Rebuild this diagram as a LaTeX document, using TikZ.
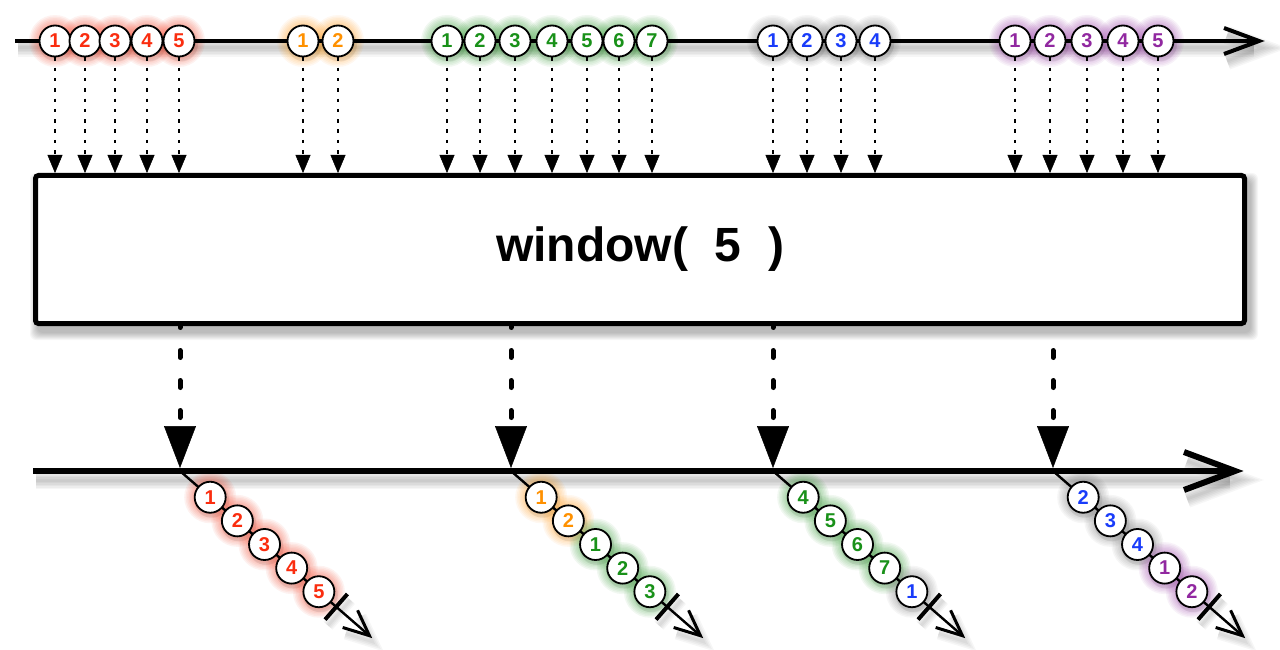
\documentclass[tikz,border=0pt]{standalone}
\usepackage{fontspec}
\setmainfont{Liberation Sans}
\usetikzlibrary{arrows.meta,calc}
\definecolor{cred}{RGB}{250,45,15}
\definecolor{corange}{RGB}{255,145,0}
\definecolor{cgreen}{RGB}{25,145,25}
\definecolor{cblue}{RGB}{25,60,250}
\definecolor{cpurple}{RGB}{145,40,160}
\definecolor{gshade}{RGB}{110,110,110}
\pgfdeclarelayer{bg}
\pgfdeclarelayer{shadow}
\pgfdeclarelayer{lines}
\pgfsetlayers{bg,shadow,lines,main}
\newcommand\glowat[2]{%
  \begin{pgfonlayer}{shadow}
    \foreach \rr in {17,18.5,...,27}{\fill[#2,opacity=0.06] (#1.center) circle[radius=\rr pt];}
    \fill[black,opacity=0.07] ($(#1.center)+(1.5,3)$) circle[radius=17.5pt];
  \end{pgfonlayer}}
\newcommand\dgroup[2]{%
  \foreach \lab/\col/\glc/\nam [count=\kk from 0] in {#2}{%
    \pgfmathsetmacro\dist{40+36*\kk}
    \node[marble,text=\col] (\nam) at ($(#1)+({0.7547*\dist},{0.6561*\dist})$) {\lab};
    \glowat{\nam}{\glc}
  }}
\tikzset{
  marble/.style={circle,draw=black,line width=1.8pt,fill=white,minimum size=31pt,inner sep=0pt,
    font=\bfseries\fontsize{20}{20}\selectfont},
  winbox/.style={draw=black,fill=white,line width=5pt,rounded corners=3pt,minimum width=1209pt,
    minimum height=148pt,inner sep=0pt,font=\bfseries\fontsize{48}{48}\selectfont},
  dotarrow/.style={line width=2.2pt,dash pattern=on 3.5pt off 6.8pt,
    -{Triangle[length=18pt,width=15pt,line width=0.5pt]}},
  winarrow/.style={line width=5pt,line cap=round,dash pattern=on 7pt off 23pt,
    -{Triangle[length=42pt,width=32pt,line width=0.5pt]},shorten >=3pt},
  diagline/.style={line width=2.4pt},
  tickline/.style={line width=4pt},
  chev/.style={line join=miter,line cap=butt},
  shade/.style={black,opacity=0.035},
}
\begin{document}
\begin{tikzpicture}[x=1pt,y=-1pt]
\useasboundingbox (0,0) rectangle (1280,650);
\begin{pgfonlayer}{bg}\fill[white] (0,0) rectangle (1280,650);\end{pgfonlayer}

% axis coordinates
\coordinate (tl) at (15,41);
\coordinate (tr) at (1259,41);
\coordinate (ta) at (1224,28);
\coordinate (tb) at (1224,54);
\coordinate (bl) at (33,471);
\coordinate (br) at (1235,471);
\coordinate (ba) at (1184,452);
\coordinate (bb) at (1184,490);
\foreach \i/\x in {1/180,2/511,3/773,4/1053}{
  \coordinate (w\i) at (\x,471);
  \coordinate (e\i) at ($(w\i)+({0.7547*251},{0.6561*251})$);
  \coordinate (tc\i) at ($(w\i)+({0.7547*207},{0.6561*207})$);
  \coordinate (ka\i) at ($(tc\i)+(-11.2,12.8)$);
  \coordinate (kb\i) at ($(tc\i)+(11.2,-12.8)$);
  \coordinate (ca\i) at ($(e\i)!28pt!24:(w\i)$);
  \coordinate (cb\i) at ($(e\i)!28pt!-24:(w\i)$);
}

% operator box
\node[winbox] (box) at (640,249.5) {window(\ \ 5\ \ )};

% shadows of axes and box
\begin{pgfonlayer}{shadow}
  \foreach \k in {0,1,...,7}{
    \fill[shade,rounded corners=6pt] ($(box.north west)+(4-\k,7-\k)$) rectangle ($(box.south east)+(4+\k,7+\k)$);
  }
  \foreach \w in {3,6,...,18}{
    \draw[shade,line width=\w pt] ($(tl)+(3,7)$) -- ($(tr)+(-5,7)$);
    \draw[shade,line width=\w pt,chev] ($(ta)+(3,7)$) -- ($(tr)+(3,7)$) -- ($(tb)+(3,7)$);
    \draw[shade,line width=\w pt] ($(bl)+(3,9)$) -- ($(br)+(-5,9)$);
    \draw[shade,line width=\w pt,chev] ($(ba)+(3,9)$) -- ($(br)+(3,9)$) -- ($(bb)+(3,9)$);
  }
  \foreach \i in {1,2,3,4}{
    \foreach \w in {3,6,9,12}{
      \draw[shade,line width=\w pt,chev] ($(ca\i)+(3,6)$) -- ($(e\i)+(3,6)$) -- ($(cb\i)+(3,6)$);
      \draw[shade,line width=\w pt] ($(ka\i)+(3,6)$) -- ($(kb\i)+(3,6)$);
    }
  }
\end{pgfonlayer}

% axes
\begin{pgfonlayer}{lines}
  \draw[line width=3.2pt] (tl) -- (tr);
  \draw[line width=4pt,chev] (ta) -- (tr) -- (tb);
  \draw[line width=6pt] (bl) -- (br);
  \draw[line width=6pt,chev] (ba) -- (br) -- (bb);
\end{pgfonlayer}

% top marbles with arrows into the box
\foreach \n/\x/\t/\c/\g in {
  r1/55/1/cred/cred, r2/85/2/cred/cred, r3/115/3/cred/cred, r4/147/4/cred/cred, r5/179/5/cred/cred,
  o1/303/1/corange/corange, o2/338/2/corange/corange,
  g1/447/1/cgreen/cgreen, g2/480/2/cgreen/cgreen, g3/515/3/cgreen/cgreen, g4/552/4/cgreen/cgreen,
  g5/587/5/cgreen/cgreen, g6/619/6/cgreen/cgreen, g7/652/7/cgreen/cgreen,
  b1/773/1/cblue/gshade, b2/807/2/cblue/gshade, b3/841/3/cblue/gshade, b4/875/4/cblue/gshade,
  p1/1015/1/cpurple/cpurple, p2/1050/2/cpurple/cpurple, p3/1087/3/cpurple/cpurple,
  p4/1123/4/cpurple/cpurple, p5/1158/5/cpurple/cpurple}{
  \node[marble,text=\c] (\n) at (\x,41) {\t};
  \glowat{\n}{\g}
  \begin{pgfonlayer}{lines}
    \draw[dotarrow] (\n.south) -- (\n.south |- box.north);
  \end{pgfonlayer}
}

% window output arrows and window streams
\begin{pgfonlayer}{lines}
  \foreach \i in {1,2,3}{
    \draw[winarrow,dash phase=5.5pt] (box.south -| w\i) -- (w\i);
  }
  \draw[winarrow,dash phase=7.5pt,shorten <=2pt] (box.south -| w4) -- (w4);
  \foreach \i in {1,2,3,4}{
    \draw[diagline] (w\i) -- (e\i);
    \draw[tickline] (ka\i) -- (kb\i);
    \draw[line width=3pt,chev] (ca\i) -- (e\i) -- (cb\i);
  }
\end{pgfonlayer}

\dgroup{w1}{1/cred/cred/d11, 2/cred/cred/d12, 3/cred/cred/d13, 4/cred/cred/d14, 5/cred/cred/d15}
\dgroup{w2}{1/corange/corange/d21, 2/corange/corange/d22, 1/cgreen/cgreen/d23, 2/cgreen/cgreen/d24, 3/cgreen/cgreen/d25}
\dgroup{w3}{4/cgreen/cgreen/d31, 5/cgreen/cgreen/d32, 6/cgreen/cgreen/d33, 7/cgreen/cgreen/d34, 1/cblue/gshade/d35}
\dgroup{w4}{2/cblue/gshade/d41, 3/cblue/gshade/d42, 4/cblue/gshade/d43, 1/cpurple/cpurple/d44, 2/cpurple/cpurple/d45}
\end{tikzpicture}
\end{document}
